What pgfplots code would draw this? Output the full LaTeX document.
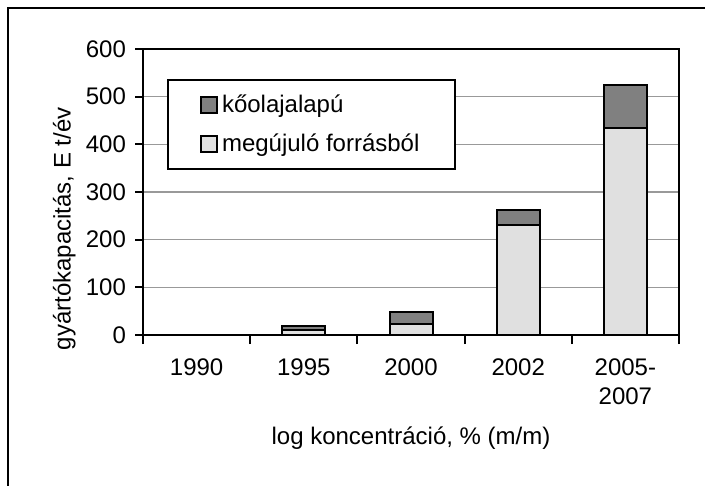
\documentclass[border=0pt]{standalone}
\usepackage{fontspec}
\setmainfont{Liberation Sans}
\usepackage{pgfplots}
\pgfplotsset{compat=1.18}
\begin{document}
\begin{tikzpicture}[font=\fontsize{12}{14.3}\selectfont]
\begin{axis}[
  scale only axis, width=268pt, height=143pt,
  at={(0,0)}, anchor=south west,
  ybar stacked, bar width=21.5pt,
  xmin=-0.5, xmax=4.5, ymin=0, ymax=600,
  xtick={0,1,2,3,4},
  xticklabels={1990,1995,2000,2002,{2005-\\2007}},
  xticklabel style={align=center, yshift=-4.5pt},
  minor xtick={-0.5,0.5,1.5,2.5,3.5,4.5},
  major x tick style={draw=none},
  ytick={0,100,200,300,400,500,600},
  yticklabel style={xshift=-1pt},
  tick align=outside, xtick pos=bottom, ytick pos=left,
  tick style={black, line width=1pt},
  major tick length=4pt, minor tick length=4.5pt,
  ymajorgrids, major grid style={black!40, line width=0.8pt},
  axis line style={line width=1pt},
  /pgf/number format/assume math mode=true,
  ylabel={gyártókapacitás, E t/év},
  ylabel style={at={(axis description cs:-0.147,0.371)}, anchor=center},
  xlabel={log koncentráció, \% (m/m)},
  xlabel style={at={(axis description cs:0.5,-0.36)}, anchor=center},
  legend style={at={(axis description cs:0.0448,0.895)}, anchor=north west,
    draw=black, line width=1pt, fill=white, inner xsep=16pt, inner ysep=5.5pt,
    row sep=5pt},
  legend cell align=left,
  reverse legend,
  legend image code/.code={\draw[#1, line width=1pt] (0pt,-4pt) rectangle (8pt,4pt);},
]
\addplot[fill=black!12, draw=black, line width=1pt] coordinates {(0,0) (1,10) (2,23) (3,231) (4,435)};
\addlegendentry{megújuló forrásból}
\addplot[fill=black!50, draw=black, line width=1pt] coordinates {(0,0) (1,8) (2,25) (3,32) (4,90)};
\addlegendentry{kőolajalapú}
\end{axis}
\pgfresetboundingbox
\useasboundingbox (-71.5pt,-75.5pt) rectangle (281pt,167.5pt);
\draw[line width=0.9pt] (-67.5pt,-90pt) -- (-67.5pt,163.5pt) -- (300pt,163.5pt);
\end{tikzpicture}
\end{document}
